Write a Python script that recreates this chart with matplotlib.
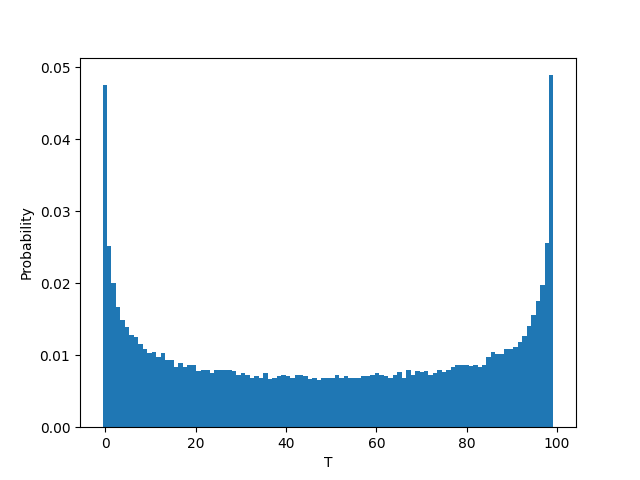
import numpy as np
import matplotlib
matplotlib.use('Agg')
import matplotlib.pyplot as plt

# T = 0..100, probability of each value
T = np.arange(101)
prob = [0.0475, 0.0252, 0.0201, 0.0167, 0.0149, 0.0139, 0.0128, 0.0126, 0.0116, 0.0108,
        0.0103, 0.0105, 0.0098, 0.0103, 0.0094, 0.0094, 0.0083, 0.0089, 0.0083, 0.0087,
        0.0086, 0.0078, 0.0080, 0.0079, 0.0075, 0.0080, 0.0079, 0.0079, 0.0080, 0.0078,
        0.0072, 0.0075, 0.0072, 0.0069, 0.0071, 0.0069, 0.0075, 0.00665, 0.0068, 0.0071,
        0.0072, 0.0071, 0.0068, 0.0072, 0.0072, 0.0071, 0.00665, 0.0069, 0.0065, 0.0069,
        0.0069, 0.0069, 0.0072, 0.0068, 0.0071, 0.0068, 0.0069, 0.0068, 0.0071, 0.0071,
        0.0072, 0.0075, 0.0072, 0.0071, 0.0068, 0.0073, 0.0076, 0.0068, 0.0079, 0.0072,
        0.0078, 0.0076, 0.0078, 0.0073, 0.0075, 0.0079, 0.0076, 0.0079, 0.0083, 0.0086,
        0.0086, 0.0086, 0.00845, 0.0086, 0.0083, 0.0087, 0.0098, 0.0104, 0.0101, 0.0101,
        0.0109, 0.0108, 0.0112, 0.0119, 0.0127, 0.0140, 0.0156, 0.0176, 0.0197, 0.0256,
        0.0489]

# bins as in the original histogram (slightly narrower than 1)
edges = np.linspace(-0.65, 99.2, len(T) + 1)

fig, ax = plt.subplots(figsize=(6.4, 4.8), dpi=100)
ax.hist(edges[:-1], bins=edges, weights=prob)
ax.set_xlabel('T')
ax.set_ylabel('Probability')

fig.savefig('out.png')
